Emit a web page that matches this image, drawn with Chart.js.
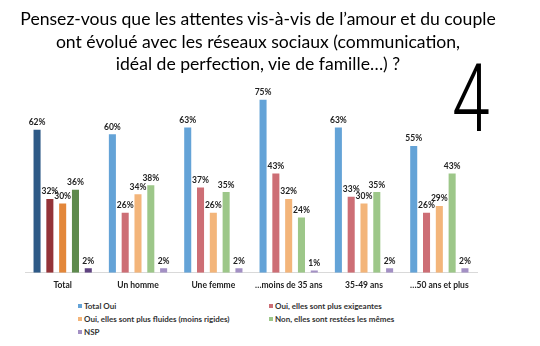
<!DOCTYPE html>
<html>
<head>
<meta charset="utf-8">
<script src="https://cdn.jsdelivr.net/npm/chart.js@4.4.1/dist/chart.umd.min.js"></script>
<style>
  body { margin: 0; background: #fff; }
  #wrap { position: relative; width: 540px; height: 346px; overflow: hidden; }
  #titre { position: absolute; left: 0; top: 8px; width: 516px; text-align: center;
           font-family: Lato, sans-serif; font-size: 17.6px; line-height: 22.5px; color: #000; }
  #numero { position: absolute; left: 452px; top: 43px; font-family: Roboto, sans-serif;
            font-weight: 300; font-size: 68px; line-height: 80px; color: #000;
            transform: scaleY(1.4); transform-origin: top left; }
  #graph { position: absolute; left: 0; top: 0; }
  #legende { position: absolute; left: 78px; top: 301px; display: grid;
             grid-template-columns: 191px 200px; row-gap: 3px;
             font-family: Lato, sans-serif; font-weight: bold; font-size: 8px; color: #333; }
  #legende span.b { display: inline-block; width: 4px; height: 4px; margin-right: 2px; vertical-align: 1px; }
</style>
</head>
<body>
<div id="wrap">
  <canvas id="graph" width="540" height="300"></canvas>
  <div id="titre">Pensez-vous que les attentes vis-à-vis de l’amour et du couple<br>ont évolué avec les réseaux sociaux (communication,<br>idéal de perfection, vie de famille…) ?</div>
  <div id="numero">4</div>
  <div id="legende"></div>
</div>
<script>
// catégories
const categories = ['Total', 'Un homme', 'Une femme', '…moins de 35 ans', '35-49 ans', '…50 ans et plus'];

// séries (en %)
const totalOui   = [62, 60, 63, 75, 63, 55];
const exigeantes = [32, 26, 37, 43, 33, 26];
const fluides    = [30, 34, 26, 32, 30, 29];
const memes      = [36, 38, 35, 24, 35, 43];
const nsp        = [2, 2, 2, 1, 2, 2];

const seriesNames = ['Total Oui', 'Oui, elles sont plus exigeantes', 'Oui, elles sont plus fluides (moins rigides)', 'Non, elles sont restées les mêmes', 'NSP'];

// couleurs : foncée pour "Total", claire pour les autres
const darkColors  = ['#2E5A87', '#943338', '#E3873A', '#5E8A4D', '#5F4380'];
const lightColors = ['#64A3D7', '#CD6E75', '#F3B57A', '#9DC789', '#A390C4'];

const allSeries = [totalOui, exigeantes, fluides, memes, nsp];

const datasets = allSeries.map(function(values, i) {
    return {
        label: seriesNames[i],
        data: values,
        backgroundColor: categories.map(function(c, j) { return j === 0 ? darkColors[i] : lightColors[i]; }),
        categoryPercentage: 0.85,
        barPercentage: 0.55
    };
});

// étiquettes de valeur au-dessus des barres
const valueLabels = {
    id: 'valueLabels',
    afterDatasetsDraw: function(chart) {
        const ctx = chart.ctx;
        ctx.save();
        ctx.font = 'bold 8.5px Lato, sans-serif';
        ctx.fillStyle = '#222';
        ctx.textAlign = 'center';
        ctx.textBaseline = 'bottom';
        chart.data.datasets.forEach(function(ds, i) {
            chart.getDatasetMeta(i).data.forEach(function(bar, j) {
                ctx.fillText(ds.data[j] + '%', bar.x, bar.y - 3);
            });
        });
        ctx.restore();
    }
};

new Chart(document.getElementById('graph'), {
    type: 'bar',
    data: { labels: categories, datasets: datasets },
    plugins: [valueLabels],
    options: {
        responsive: false,
        animation: false,
        layout: { padding: { top: 79, left: 25, right: 63, bottom: 3 } },
        plugins: { legend: { display: false }, title: { display: false }, tooltip: { enabled: false } },
        scales: {
            x: {
                grid: { display: false, drawTicks: false },
                border: { display: true, color: '#D9D9D9' },
                ticks: { padding: 7, color: '#222', font: { family: 'Lato, sans-serif', size: 8.5, weight: 'bold' } }
            },
            y: { display: false, min: 0, max: 84 }
        }
    }
});

// légende en deux colonnes
const legende = document.getElementById('legende');
seriesNames.forEach(function(name, i) {
    const item = document.createElement('div');
    item.innerHTML = '<span class="b" style="background:' + lightColors[i] + '"></span>' + name;
    legende.appendChild(item);
});
</script>
</body>
</html>
